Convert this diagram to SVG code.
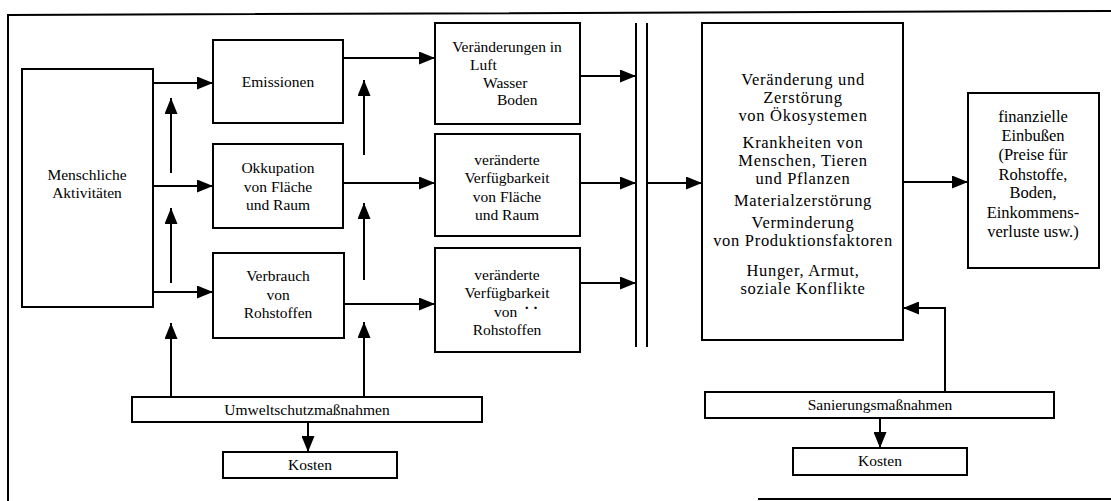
<svg xmlns="http://www.w3.org/2000/svg" width="1111" height="501" viewBox="0 0 1111 501">
<style>
.box{fill:#fff;stroke:#000;stroke-width:2}
.t{font-family:"Liberation Serif","Times New Roman",serif;font-size:15.5px;fill:#000;text-anchor:middle}
.tb{font-family:"Liberation Serif","Times New Roman",serif;font-size:16.5px;letter-spacing:0.7px;fill:#000;text-anchor:middle}
.tf{font-family:"Liberation Serif","Times New Roman",serif;font-size:16.5px;fill:#000;text-anchor:middle}
.tl{font-family:"Liberation Serif","Times New Roman",serif;font-size:15.5px;fill:#000}
.c{fill:none;stroke:#000;stroke-width:2}
</style>
<defs>
<marker id="ah" markerUnits="userSpaceOnUse" markerWidth="17" markerHeight="13" refX="16" refY="6.5" orient="auto">
<path d="M0,0 L16,6.5 L0,13 z" fill="#000"/>
</marker>
</defs>
<rect width="1111" height="501" fill="#fff"/>
<g id="frame" class="c">
<path d="M8,501 V15 L1111,11"/>
<path d="M758,499 H1111"/>
</g>
<g id="connectors" class="c">
<path d="M153,83 H213" marker-end="url(#ah)"/>
<path d="M153,186 H213" marker-end="url(#ah)"/>
<path d="M153,292 H213" marker-end="url(#ah)"/>
<path d="M171,173 V98" marker-end="url(#ah)"/>
<path d="M171,283 V208" marker-end="url(#ah)"/>
<path d="M171,397 V323" marker-end="url(#ah)"/>
<path d="M364,155 V80" marker-end="url(#ah)"/>
<path d="M364,280 V203" marker-end="url(#ah)"/>
<path d="M364,397 V322" marker-end="url(#ah)"/>
<path d="M343,58 H435" marker-end="url(#ah)"/>
<path d="M343,183 H435" marker-end="url(#ah)"/>
<path d="M344,304 H435" marker-end="url(#ah)"/>
<path d="M580,76 H636" marker-end="url(#ah)"/>
<path d="M580,183 H636" marker-end="url(#ah)"/>
<path d="M580,283 H636" marker-end="url(#ah)"/>
<path d="M647,183 H702" marker-end="url(#ah)"/>
<path d="M903,182 H968" marker-end="url(#ah)"/>
<path d="M308,422 V452" marker-end="url(#ah)"/>
<path d="M945,392 V308 H903" marker-end="url(#ah)"/>
<path d="M880,418 V448" marker-end="url(#ah)"/>
<path d="M636,23 V347"/>
<path d="M647,23 V347"/>
</g>
<g id="menschliche">
<rect class="box" x="22" y="69" width="131" height="238"/>
<text class="t" x="87" y="180">Menschliche</text>
<text class="t" x="87" y="198">Aktivitäten</text>
</g>
<g id="emissionen">
<rect class="box" x="213" y="40" width="130" height="83"/>
<text class="t" x="278" y="87">Emissionen</text>
</g>
<g id="okkupation">
<rect class="box" x="213" y="144" width="130" height="84"/>
<text class="t" x="278" y="173">Okkupation</text>
<text class="t" x="278" y="192">von Fläche</text>
<text class="t" x="278" y="210">und Raum</text>
</g>
<g id="verbrauch">
<rect class="box" x="213" y="253" width="131" height="85"/>
<text class="t" x="278" y="281">Verbrauch</text>
<text class="t" x="278" y="300">von</text>
<text class="t" x="278" y="318">Rohstoffen</text>
</g>
<g id="veraenderungen">
<rect class="box" x="435" y="23" width="145" height="101"/>
<text class="t" x="507" y="52">Veränderungen in</text>
<text class="tl" x="470" y="70">Luft</text>
<text class="tl" x="483" y="88">Wasser</text>
<text class="tl" x="497" y="105">Boden</text>
</g>
<g id="verfuegbarkeit-flaeche">
<rect class="box" x="435" y="134" width="145" height="102"/>
<text class="t" x="507" y="165">veränderte</text>
<text class="t" x="507" y="183">Verfügbarkeit</text>
<text class="t" x="507" y="202">von Fläche</text>
<text class="t" x="507" y="220">und Raum</text>
</g>
<g id="verfuegbarkeit-rohstoffe">
<rect class="box" x="435" y="248" width="145" height="104"/>
<text class="t" x="507" y="280">veränderte</text>
<text class="t" x="507" y="298">Verfügbarkeit</text>
<text class="tl" x="494" y="317">von <tspan dx="3" dy="-4" font-weight="bold" font-size="15">· ·</tspan></text>
<text class="t" x="507" y="335">Rohstoffen</text>
</g>
<g id="folgen">
<rect class="box" x="702" y="23" width="201" height="317"/>
<text class="tb" x="803" y="85">Veränderung und</text>
<text class="tb" x="803" y="103">Zerstörung</text>
<text class="tb" x="803" y="121">von Ökosystemen</text>
<text class="tb" x="803" y="148">Krankheiten von</text>
<text class="tb" x="803" y="166">Menschen, Tieren</text>
<text class="tb" x="803" y="184">und Pflanzen</text>
<text class="tb" x="803" y="206">Materialzerstörung</text>
<text class="tb" x="803" y="228">Verminderung</text>
<text class="tb" x="803" y="246">von Produktionsfaktoren</text>
<text class="tb" x="803" y="276">Hunger, Armut,</text>
<text class="tb" x="803" y="294">soziale Konflikte</text>
</g>
<g id="finanzielle">
<rect class="box" x="968" y="93" width="131" height="175"/>
<text class="tf" x="1033" y="122">finanzielle</text>
<text class="tf" x="1033" y="141">Einbußen</text>
<text class="tf" x="1033" y="160">(Preise für</text>
<text class="tf" x="1033" y="180">Rohstoffe,</text>
<text class="tf" x="1033" y="198">Boden,</text>
<text class="tf" x="1033" y="218">Einkommens-</text>
<text class="tf" x="1033" y="237">verluste usw.)</text>
</g>
<g id="umweltschutz">
<rect class="box" x="132" y="397" width="350" height="25"/>
<text class="t" x="307" y="415">Umweltschutzmaßnahmen</text>
</g>
<g id="kosten-links">
<rect class="box" x="223" y="452" width="174" height="26"/>
<text class="t" x="310" y="470">Kosten</text>
</g>
<g id="sanierung">
<rect class="box" x="705" y="392" width="349" height="26"/>
<text class="t" x="880" y="410">Sanierungsmaßnahmen</text>
</g>
<g id="kosten-rechts">
<rect class="box" x="793" y="448" width="174" height="27"/>
<text class="t" x="880" y="466">Kosten</text>
</g>
</svg>
